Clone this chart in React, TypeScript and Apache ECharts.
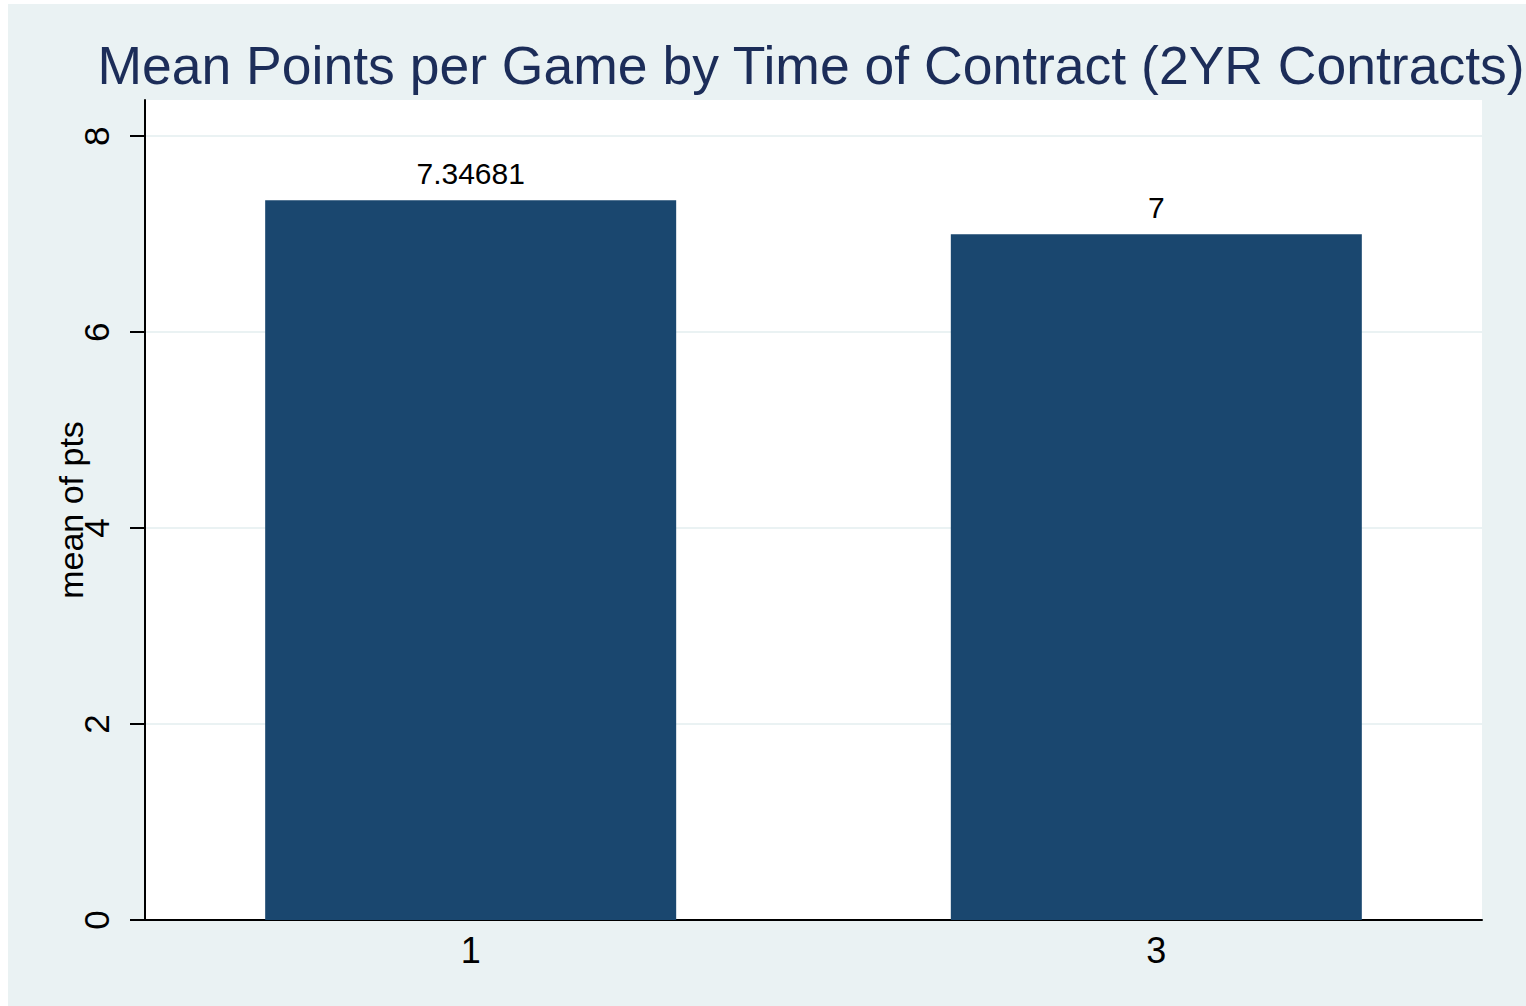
import React, { useEffect, useRef } from "react";
import * as echarts from "echarts";

const titleText = "Mean Points per Game by Time of Contract (2YR Contracts)";
const yAxisName = "mean of pts";
const categories = [1, 3];
const meanPts = [7.34681, 7];
const barLabels = ["7.34681", "7"];
const yTicks = [0, 2, 4, 6, 8];
const xTicks = [1, 3];

export default function App() {
  const ref = useRef<HTMLDivElement>(null);
  useEffect(() => {
    if (!ref.current) return;
    const chart = echarts.init(ref.current, undefined, { renderer: "svg" });
    const font = "'Liberation Sans', Arial, Helvetica, sans-serif";
    chart.setOption({
      animation: false,
      backgroundColor: "#eaf2f3",
      textStyle: { fontFamily: font },
      graphic: [
        {
          type: "text",
          x: 803,
          y: 61,
          style: {
            text: titleText,
            textAlign: "center",
            textVerticalAlign: "middle",
            fontSize: 53.5,
            fontFamily: font,
            fill: "#1c2d59",
          },
        },
      ],
      grid: {
        left: 137,
        top: 96,
        right: 44,
        bottom: 86,
        show: true,
        backgroundColor: "#ffffff",
        borderWidth: 0,
      },
      xAxis: {
        type: "value",
        min: 0.05,
        max: 3.95,
        axisLine: { show: true, lineStyle: { color: "#000000", width: 2 } },
        axisTick: { show: false },
        splitLine: { show: false },
        axisLabel: {
          customValues: xTicks,
          color: "#000000",
          fontSize: 36,
          margin: 12,
          fontFamily: font,
        },
      },
      yAxis: {
        type: "value",
        min: 0,
        max: 8.37,
        name: yAxisName,
        nameLocation: "middle",
        nameRotate: 90,
        nameGap: 57,
        nameMoveOverlap: false,
        nameTextStyle: { fontSize: 34, color: "#000000", fontFamily: font },
        axisLine: { show: true, lineStyle: { color: "#000000", width: 2 } },
        axisTick: {
          show: true,
          customValues: yTicks,
          length: 15,
          lineStyle: { color: "#000000", width: 2 },
        },
        splitLine: { show: true, lineStyle: { color: "#eaf2f3", width: 2 } },
        axisLabel: {
          customValues: yTicks,
          rotate: 90,
          color: "#000000",
          fontSize: 35,
          margin: 31,
          fontFamily: font,
        },
      },
      series: [
        {
          type: "bar",
          data: categories.map((c, i) => [c, meanPts[i]]),
          barWidth: 411,
          itemStyle: { color: "#1a476f" },
          label: {
            show: true,
            position: "top",
            distance: 12,
            fontSize: 30,
            color: "#000000",
            fontFamily: font,
            formatter: (p: any) => barLabels[p.dataIndex],
          },
        },
      ],
    });
    return () => chart.dispose();
  }, []);
  return (
    <div
      ref={ref}
      style={{ position: "fixed", left: 8, top: 4, width: 1518, height: 1002 }}
    />
  );
}
